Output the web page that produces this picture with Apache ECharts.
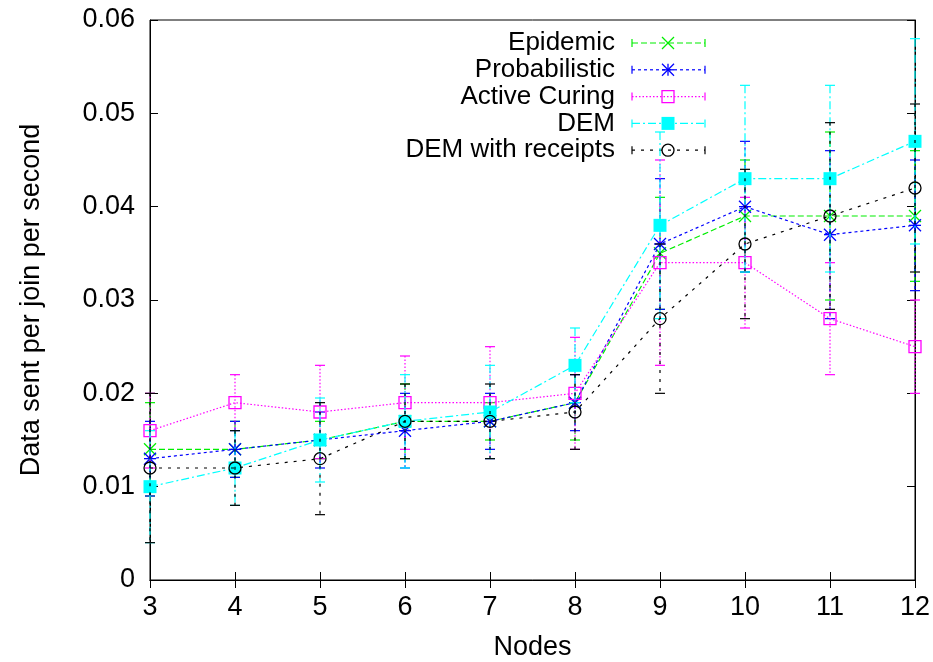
<!DOCTYPE html>
<html><head><meta charset="utf-8">
<script src="https://cdn.jsdelivr.net/npm/echarts@6/dist/echarts.min.js"></script>
<style>html,body{margin:0;padding:0;background:#fff}#c{width:933px;height:662px}</style>
</head><body><div id="c"></div>
<script>
// ---- data ----
const nodes = [3, 4, 5, 6, 7, 8, 9, 10, 11, 12];
const yTicks = [0, 0.01, 0.02, 0.03, 0.04, 0.05, 0.06];
const seriesNames = ['Epidemic', 'Probabilistic', 'Active Curing', 'DEM', 'DEM with receipts'];

const epidemic      = [0.014, 0.014, 0.015, 0.017, 0.017, 0.019, 0.035, 0.039, 0.039, 0.039];
const epidemicErr   = [0.005, 0.003, 0.002, 0.004, 0.002, 0.004, 0.006, 0.006, 0.009, 0.007];
const probabilistic = [0.013, 0.014, 0.015, 0.016, 0.017, 0.019, 0.036, 0.040, 0.037, 0.038];
const probErr       = [0.004, 0.003, 0.003, 0.004, 0.003, 0.003, 0.007, 0.007, 0.009, 0.007];
const activeCuring  = [0.016, 0.019, 0.018, 0.019, 0.019, 0.020, 0.034, 0.034, 0.028, 0.025];
const activeErr     = [0.004, 0.003, 0.005, 0.005, 0.006, 0.006, 0.011, 0.007, 0.006, 0.005];
const dem           = [0.010, 0.012, 0.015, 0.017, 0.018, 0.023, 0.038, 0.043, 0.043, 0.047];
const demErr        = [0.006, 0.004, 0.0045, 0.005, 0.005, 0.004, 0.010, 0.010, 0.010, 0.011];
const demReceipts   = [0.012, 0.012, 0.013, 0.017, 0.017, 0.018, 0.028, 0.036, 0.039, 0.042];
const receiptsErr   = [0.008, 0.004, 0.006, 0.004, 0.004, 0.004, 0.008, 0.008, 0.010, 0.009];

const values = [epidemic, probabilistic, activeCuring, dem, demReceipts];
const errors = [epidemicErr, probErr, activeErr, demErr, receiptsErr];

// ---- styles ----
const colors = ['#00ee00', '#0000ff', '#ff00ff', '#00ffff', '#000000'];
const dashes = [[6, 3], [3, 3], [1.5, 2], [8, 3, 2, 3], [3, 6]];
const markers = ['cross', 'star', 'openSquare', 'filledSquare', 'openCircle'];
const FONT = "'Liberation Sans', Arial, sans-serif";
const FS = 27;
const KEY_FS = 26;
const LW = 1.2;

function markerShapes(kind, cx, cy, color) {
  const s = 6;
  const st = { stroke: color, lineWidth: 1.3, fill: null };
  switch (kind) {
    case 'cross':
      return [
        { type: 'line', shape: { x1: cx - s, y1: cy - s, x2: cx + s, y2: cy + s }, style: st },
        { type: 'line', shape: { x1: cx - s, y1: cy + s, x2: cx + s, y2: cy - s }, style: st }
      ];
    case 'star':
      return [
        { type: 'line', shape: { x1: cx - s, y1: cy - s, x2: cx + s, y2: cy + s }, style: st },
        { type: 'line', shape: { x1: cx - s, y1: cy + s, x2: cx + s, y2: cy - s }, style: st },
        { type: 'line', shape: { x1: cx - s, y1: cy, x2: cx + s, y2: cy }, style: st },
        { type: 'line', shape: { x1: cx, y1: cy - s, x2: cx, y2: cy + s }, style: st }
      ];
    case 'openSquare':
      return [{ type: 'rect', shape: { x: cx - 6, y: cy - 6, width: 12, height: 12 }, style: { stroke: color, lineWidth: 1.3, fill: 'none' } }];
    case 'filledSquare':
      return [{ type: 'rect', shape: { x: cx - 6.5, y: cy - 6.5, width: 13, height: 13 }, style: { fill: color, stroke: null } }];
    case 'openCircle':
      return [{ type: 'circle', shape: { cx: cx, cy: cy, r: 6 }, style: { stroke: color, lineWidth: 1.3, fill: 'none' } }];
  }
  return [];
}

const series = [];
seriesNames.forEach((name, i) => {
  const color = colors[i], dash = dashes[i];
  series.push({
    name: name,
    type: 'line',
    data: nodes.map((n, k) => [n, values[i][k]]),
    showSymbol: false,
    symbol: 'none',
    lineStyle: { color: color, width: LW, type: dash },
    animation: false,
    z: 2 + i
  });
  series.push({
    name: name + ' err',
    type: 'custom',
    data: nodes.map((n, k) => [n, values[i][k], errors[i][k]]),
    encode: { x: 0, y: 1 },
    animation: false,
    clip: false,
    z: 2 + i,
    renderItem: function (params, api) {
      const x = api.value(0), y = api.value(1), e = api.value(2);
      const p = api.coord([x, y]);
      const t = api.coord([x, y + e]);
      const b = api.coord([x, y - e]);
      const st = { stroke: color, lineWidth: LW, lineDash: dash, fill: null };
      const cw = 5;
      const children = [
        { type: 'line', shape: { x1: p[0], y1: t[1], x2: p[0], y2: b[1] }, style: st },
        { type: 'line', shape: { x1: p[0] - cw, y1: t[1], x2: p[0] + cw, y2: t[1] }, style: { stroke: color, lineWidth: LW } },
        { type: 'line', shape: { x1: p[0] - cw, y1: b[1], x2: p[0] + cw, y2: b[1] }, style: { stroke: color, lineWidth: LW } }
      ].concat(markerShapes(markers[i], p[0], p[1], color));
      return { type: 'group', children: children };
    }
  });
});

// legend (gnuplot-style key) drawn with graphic elements
const legendGraphics = [];
const keyTextRight = 615, keyX1 = 632, keyX2 = 705, keyMid = 668, keyY0 = 43, keyDY = 26.8;
seriesNames.forEach((name, i) => {
  const y = keyY0 + i * keyDY;
  const color = colors[i];
  legendGraphics.push({
    type: 'text', x: keyTextRight, y: y,
    style: { text: name, font: KEY_FS + 'px ' + FONT, fill: '#000', textAlign: 'right', textVerticalAlign: 'middle' }, z: 20
  });
  legendGraphics.push({
    type: 'group', z: 20,
    children: [
      { type: 'line', shape: { x1: keyX1, y1: y, x2: keyX2, y2: y }, style: { stroke: color, lineWidth: LW, lineDash: dashes[i] } },
      { type: 'line', shape: { x1: keyX1, y1: y - 4, x2: keyX1, y2: y + 4 }, style: { stroke: color, lineWidth: LW } },
      { type: 'line', shape: { x1: keyX2, y1: y - 4, x2: keyX2, y2: y + 4 }, style: { stroke: color, lineWidth: LW } }
    ].concat(markerShapes(markers[i], keyMid, y, color))
  });
});

const axisLabelStyle = { color: '#000', fontSize: FS, fontFamily: FONT };

const option = {
  backgroundColor: '#fff',
  animation: false,
  grid: { left: 150, right: 18, top: 20, bottom: 82, outerBoundsMode: 'none', containLabel: false, show: true, borderColor: '#000', borderWidth: 1, backgroundColor: 'transparent' },
  xAxis: [{
    type: 'value', min: nodes[0], max: nodes[nodes.length - 1], interval: 1,
    name: 'Nodes', nameLocation: 'middle', nameGap: 54,
    nameTextStyle: { color: '#000', fontSize: FS, fontFamily: FONT },
    axisLine: { show: true, lineStyle: { color: '#000', width: 1 } },
    axisTick: { show: true, inside: true, length: 8, lineStyle: { color: '#000' } },
    axisLabel: Object.assign({ margin: 14 }, axisLabelStyle),
    splitLine: { show: false }
  }, {
    type: 'value', position: 'top', min: nodes[0], max: nodes[nodes.length - 1], interval: 1,
    axisLine: { show: true, lineStyle: { color: '#000', width: 1 } },
    axisTick: { show: true, inside: true, length: 8, lineStyle: { color: '#000' } },
    axisLabel: { show: false }, splitLine: { show: false }
  }],
  yAxis: [{
    type: 'value', min: yTicks[0], max: yTicks[yTicks.length - 1], interval: 0.01,
    name: 'Data sent per join per second', nameLocation: 'middle', nameGap: 105,
    nameTextStyle: { color: '#000', fontSize: FS, fontFamily: FONT },
    axisLine: { show: true, lineStyle: { color: '#000', width: 1 } },
    axisTick: { show: true, inside: true, length: 8, lineStyle: { color: '#000' } },
    axisLabel: Object.assign({ margin: 15, formatter: v => String(+v.toFixed(2)) }, axisLabelStyle),
    splitLine: { show: false }
  }, {
    type: 'value', position: 'right', min: yTicks[0], max: yTicks[yTicks.length - 1], interval: 0.01,
    axisLine: { show: true, lineStyle: { color: '#000', width: 1 } },
    axisTick: { show: true, inside: true, length: 8, lineStyle: { color: '#000' } },
    axisLabel: { show: false }, splitLine: { show: false }
  }],
  series: series,
  graphic: legendGraphics
};

const chart = echarts.init(document.getElementById('c'), null, { renderer: 'canvas' });
chart.setOption(option);
</script>
</body></html>
